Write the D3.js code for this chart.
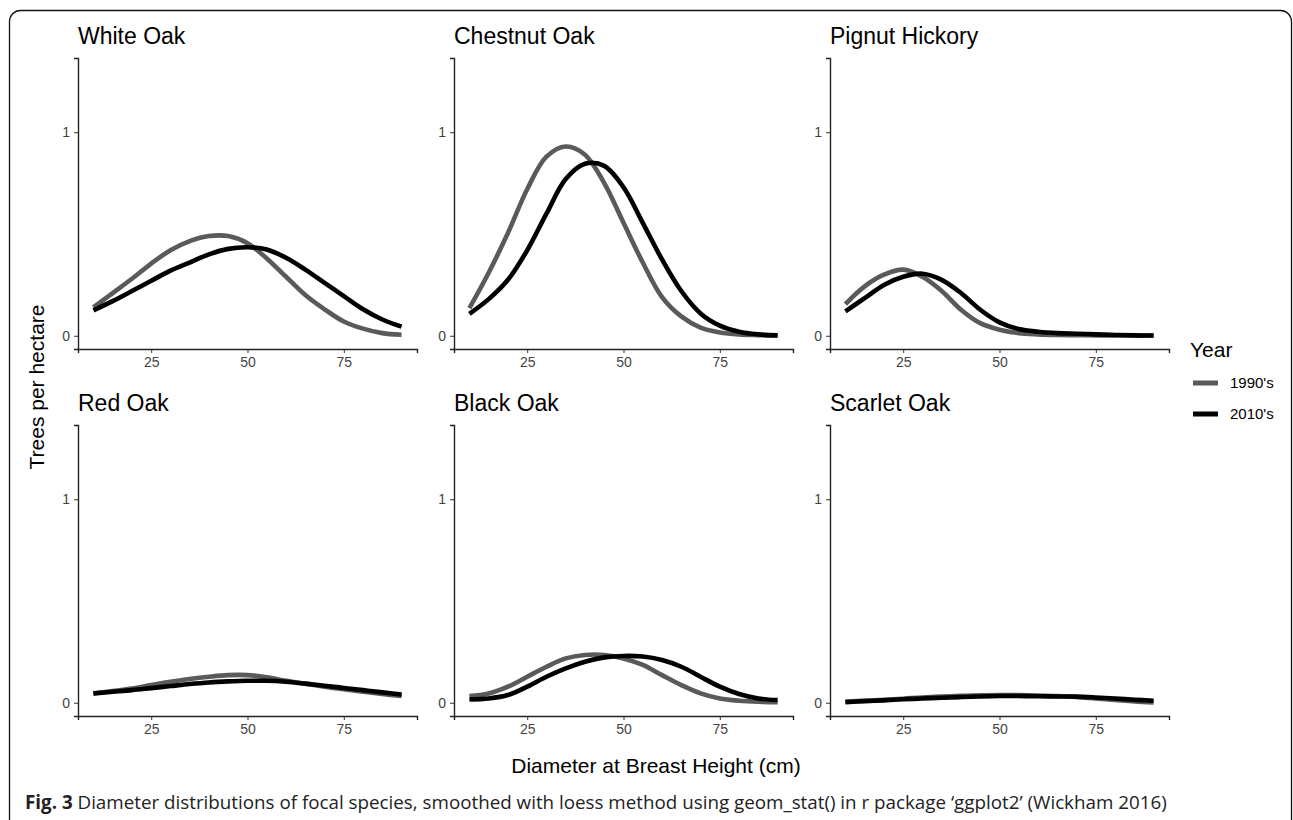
<!DOCTYPE html>
<html>
<head>
<meta charset="utf-8">
<script src="https://cdn.jsdelivr.net/npm/d3@7"></script>
<style>
  body { margin: 0; background: #fff; }
  svg { display: block; }
</style>
</head>
<body>
<div id="chart"></div>
<script>
// diameter at breast height (cm) sample points
const dbh = [10, 15, 20, 25, 30, 35, 40, 45, 50, 55, 60, 65, 70, 75, 80, 85, 90];

const species = ['White Oak', 'Chestnut Oak', 'Pignut Hickory', 'Red Oak', 'Black Oak', 'Scarlet Oak'];
const years = ["1990's", "2010's"];

// trees per hectare, one array per species and period
const whiteOak90 = [0.14, 0.21, 0.28, 0.355, 0.42, 0.465, 0.49, 0.49, 0.455, 0.38, 0.29, 0.20, 0.13, 0.07, 0.035, 0.013, 0.005];
const whiteOak10 = [0.125, 0.17, 0.22, 0.27, 0.32, 0.36, 0.40, 0.427, 0.435, 0.424, 0.383, 0.325, 0.26, 0.195, 0.13, 0.08, 0.045];
const chestnut90 = [0.136, 0.31, 0.505, 0.72, 0.88, 0.93, 0.89, 0.75, 0.555, 0.36, 0.19, 0.095, 0.04, 0.016, 0.006, 0.003, 0.001];
const chestnut10 = [0.108, 0.18, 0.275, 0.42, 0.60, 0.77, 0.845, 0.835, 0.73, 0.555, 0.375, 0.22, 0.11, 0.05, 0.02, 0.007, 0.002];
const pignut90 = [0.156, 0.243, 0.30, 0.325, 0.29, 0.22, 0.128, 0.062, 0.03, 0.013, 0.007, 0.004, 0.003, 0.002, 0.002, 0.001, 0.001];
const pignut10 = [0.12, 0.185, 0.25, 0.29, 0.305, 0.275, 0.21, 0.128, 0.066, 0.033, 0.02, 0.013, 0.01, 0.007, 0.004, 0.002, 0.001];
const redOak90 = [0.046, 0.058, 0.07, 0.087, 0.103, 0.117, 0.128, 0.136, 0.136, 0.125, 0.108, 0.094, 0.079, 0.066, 0.054, 0.043, 0.033];
const redOak10 = [0.046, 0.054, 0.062, 0.072, 0.082, 0.092, 0.10, 0.105, 0.108, 0.108, 0.103, 0.094, 0.084, 0.073, 0.062, 0.051, 0.041];
const blackOak90 = [0.033, 0.046, 0.079, 0.128, 0.177, 0.218, 0.235, 0.235, 0.218, 0.186, 0.136, 0.087, 0.046, 0.021, 0.01, 0.005, 0.003];
const blackOak10 = [0.016, 0.021, 0.038, 0.079, 0.128, 0.169, 0.202, 0.223, 0.23, 0.227, 0.21, 0.177, 0.128, 0.079, 0.043, 0.021, 0.013];
const scarlet90 = [0.005, 0.01, 0.015, 0.02, 0.026, 0.03, 0.034, 0.037, 0.038, 0.038, 0.036, 0.033, 0.028, 0.021, 0.014, 0.007, 0.002];
const scarlet10 = [0.003, 0.008, 0.012, 0.017, 0.021, 0.025, 0.028, 0.031, 0.033, 0.033, 0.032, 0.031, 0.03, 0.026, 0.021, 0.015, 0.01];

const seriesBySpecies = [
  [whiteOak90, whiteOak10],
  [chestnut90, chestnut10],
  [pignut90, pignut10],
  [redOak90, redOak10],
  [blackOak90, blackOak10],
  [scarlet90, scarlet10]
];

const xTicks = [25, 50, 75];
const yTicks = [0, 1];

const colors = ['#5a5a5a', '#000000'];
const sans = '"Liberation Sans", Arial, sans-serif';

const width = 1293, height = 820;
const panelW = 339, panelH = 291;
const panelLeft = [78, 454, 830];
const panelTop = [58, 425];

const svg = d3.select('#chart').append('svg')
  .attr('width', width)
  .attr('height', height);

// outer frame with rounded corners (bottom runs off the page)
svg.append('rect')
  .attr('x', 9.5).attr('y', 10.5)
  .attr('width', 1282).attr('height', 900)
  .attr('rx', 11)
  .attr('fill', 'none')
  .attr('stroke', '#111')
  .attr('stroke-width', 1.3);

const xScale = d3.scaleLinear().domain([6, 94]).range([0, panelW]);
const yScale = d3.scaleLinear().domain([-0.065, 1.365]).range([panelH, 0]);

const line = d3.line()
  .x((d, i) => xScale(dbh[i]))
  .y(d => yScale(d))
  .curve(d3.curveCatmullRom.alpha(0.5));

function styleAxis(g) {
  g.attr('font-size', null).attr('font-family', null);
  g.select('.domain').attr('stroke', '#222').attr('stroke-width', 1.4);
  g.selectAll('.tick line').attr('stroke', '#333');
  g.selectAll('.tick text')
    .style('font-family', sans)
    .style('font-size', '14px')
    .attr('fill', '#444');
}

species.forEach((name, k) => {
  const col = k % 3, row = Math.floor(k / 3);
  const g = svg.append('g')
    .attr('transform', `translate(${panelLeft[col]},${panelTop[row]})`);

  g.append('text')
    .attr('x', 0)
    .attr('y', -14)
    .style('font-family', sans)
    .style('font-size', '23px')
    .style('fill', '#000')
    .text(name);

  seriesBySpecies[k].forEach((vals, s) => {
    g.append('path')
      .datum(vals)
      .attr('d', line)
      .attr('fill', 'none')
      .attr('stroke', colors[s])
      .attr('stroke-width', 4.6);
  });

  g.append('g')
    .attr('transform', `translate(0,${panelH})`)
    .call(d3.axisBottom(xScale).tickValues(xTicks).tickSizeOuter(0).tickSize(4).tickPadding(4))
    .call(styleAxis);

  g.append('g')
    .call(d3.axisLeft(yScale).tickValues(yTicks).tickFormat(d3.format('d')).tickSizeOuter(0).tickSize(4).tickPadding(4))
    .call(styleAxis);
});

// axis titles
svg.append('text')
  .attr('transform', 'translate(44,387) rotate(-90)')
  .attr('text-anchor', 'middle')
  .style('font-family', sans)
  .style('font-size', '21px')
  .text('Trees per hectare');

svg.append('text')
  .attr('x', 656)
  .attr('y', 773)
  .attr('text-anchor', 'middle')
  .style('font-family', sans)
  .style('font-size', '21px')
  .text('Diameter at Breast Height (cm)');

// legend
const legend = svg.append('g').attr('transform', 'translate(1190,0)');
legend.append('text')
  .attr('x', 0).attr('y', 357)
  .style('font-family', sans)
  .style('font-size', '21px')
  .text('Year');

years.forEach((y, i) => {
  const cy = 383 + i * 31;
  legend.append('line')
    .attr('x1', 3).attr('x2', 28)
    .attr('y1', cy).attr('y2', cy)
    .attr('stroke', colors[i])
    .attr('stroke-width', 5);
  legend.append('text')
    .attr('x', 40).attr('y', cy + 5)
    .style('font-family', sans)
    .style('font-size', '15px')
    .text(y);
});

// caption
const caption = svg.append('text')
  .attr('x', 25)
  .attr('y', 809)
  .style('font-family', '"Open Sans", sans-serif')
  .style('font-size', '18.8px')
  .style('fill', '#222');
caption.append('tspan').style('font-weight', 'bold').text('Fig. 3');
caption.append('tspan').text(' Diameter distributions of focal species, smoothed with loess method using geom_stat() in r package \u2018ggplot2\u2019 (Wickham 2016)');
</script>
</body>
</html>
